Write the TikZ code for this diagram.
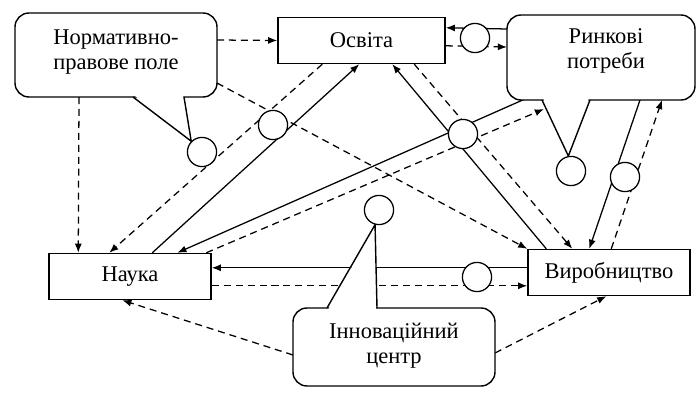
\documentclass[tikz,border=0pt]{standalone}
\usepackage{fontspec}
\setmainfont{Liberation Serif}
\usetikzlibrary{arrows.meta, calc, backgrounds}

\begin{document}
\begin{tikzpicture}[
  x=0.025cm, y=-0.025cm,
  >={Latex[length=6.5pt,width=5pt]},
  font=\fontsize{16}{18}\selectfont,
  block/.style={draw, line width=1pt, minimum width=4.05cm, minimum height=1.15cm},
  ring/.style={draw, circle, fill=white, line width=0.9pt, minimum size=0.73cm, inner sep=0pt},
  say/.style={align=center, inner sep=0pt},
  balloon/.style={draw, fill=white, line width=1pt, rounded corners=0.35cm},
  tail/.style={line width=1pt},
  link/.style={->, line width=0.9pt},
  dlink/.style={->, line width=0.9pt, dash pattern=on 5pt off 3.5pt}
]
  \useasboundingbox (0,0) rectangle (700,394);

  \node[block, minimum width=4.175cm] (osv) at (361.5,40.5) {Освіта};
  \node[block] (nauka) at (130,276.5) {Наука};
  \node[block] (vyr) at (609,272.5) {Виробництво};

  \node[say] (norm) at (116,52) {Нормативно-\\правове поле};
  \node[say] (rynk) at (606,51) {Ринкові\\потреби};
  \node[say] (inn) at (394,346) {Інноваційний\\центр};

  \node[ring] (cN) at (202,152) {};
  \node[ring] (cR) at (571,171) {};
  \node[ring] (cI) at (379,210) {};
  \node[ring] (c1) at (273,125) {};
  \node[ring] (c2) at (463,134) {};
  \node[ring] (c3) at (475,38) {};
  \node[ring] (c4) at (625,177) {};
  \node[ring] (c5) at (477,277) {};

  \begin{scope}[on background layer]
    \draw[dlink] ($(norm)+(101,-12)$) -- (osv.west);
    \draw[dlink] ($(norm)+(-37,45)$) -- ($(nauka.north west)+(30,0)$);
    \draw[dlink] ($(norm)+(101,31)$) -- (vyr.north west);

    \draw[dlink] ($(osv.south west)+(45,0)$) -- ($(nauka.north west)+(61,0)$);
    \draw[link] ($(nauka.north west)+(104,0)$) -- ($(osv.south west)+(82,0)$);
    \draw[link] ($(vyr.north west)+(19,0)$) -- ($(osv.south west)+(115,0)$);
    \draw[dlink] ($(osv.south west)+(137,0)$) -- ($(vyr.north west)+(45,0)$);

    \draw[link] ($(rynk)+(-99,-22)$) -- ($(osv.north east)+(0,11)$);
    \draw[dlink] ($(osv.north east)+(0,29)$) -- ($(rynk)+(-99,-4)$);
    \draw[link] ($(rynk)+(-81,48)$) -- ($(nauka.north west)+(129,0)$);
    \draw[dlink] ($(nauka.north west)+(158,0)$) -- ($(rynk)+(-62,58)$);
    \draw[link] ($(rynk)+(34,49)$) -- ($(vyr.north west)+(62,0)$);
    \draw[dlink] ($(vyr.north west)+(84,0)$) -- ($(rynk)+(56,49)$);

    \draw[link] ($(vyr.north west)+(0,19)$) -- ($(nauka.north east)+(0,15)$);
    \draw[dlink] ($(nauka.north east)+(0,33)$) -- ($(vyr.north west)+(0,37)$);

    \draw[dlink] ($(inn)+(-101,9)$) -- ($(nauka.south west)+(74,0)$);
    \draw[dlink] ($(inn)+(101,7)$) -- ($(vyr.south west)+(79,0)$);

    \draw[balloon] ($(norm)+(-101,-39)$) rectangle ($(norm)+(101,45)$);
    \fill[white] ($(norm)+(18,43)$) -- (cN.135) -- ($(norm)+(67,43)$) -- cycle;
    \draw[tail] ($(norm)+(17,45)$) -- (cN.135) -- ($(norm)+(68,45)$);

    \draw[balloon] ($(rynk)+(-99,-36)$) rectangle ($(rynk)+(89,49)$);
    \fill[white] ($(rynk)+(-63,47)$) -- (cR.100) -- ($(rynk)+(-17,47)$) -- cycle;
    \draw[tail] ($(rynk)+(-64,49)$) -- (cR.100) -- ($(rynk)+(-16,49)$);

    \draw[balloon] ($(inn)+(-101,-38)$) rectangle ($(inn)+(101,40)$);
    \fill[white] ($(inn)+(-66,-36)$) -- (cI.-105) -- ($(inn)+(-18,-36)$) -- cycle;
    \draw[tail] ($(inn)+(-67,-38)$) -- (cI.-105) -- ($(inn)+(-17,-38)$);
  \end{scope}
\end{tikzpicture}
\end{document}
